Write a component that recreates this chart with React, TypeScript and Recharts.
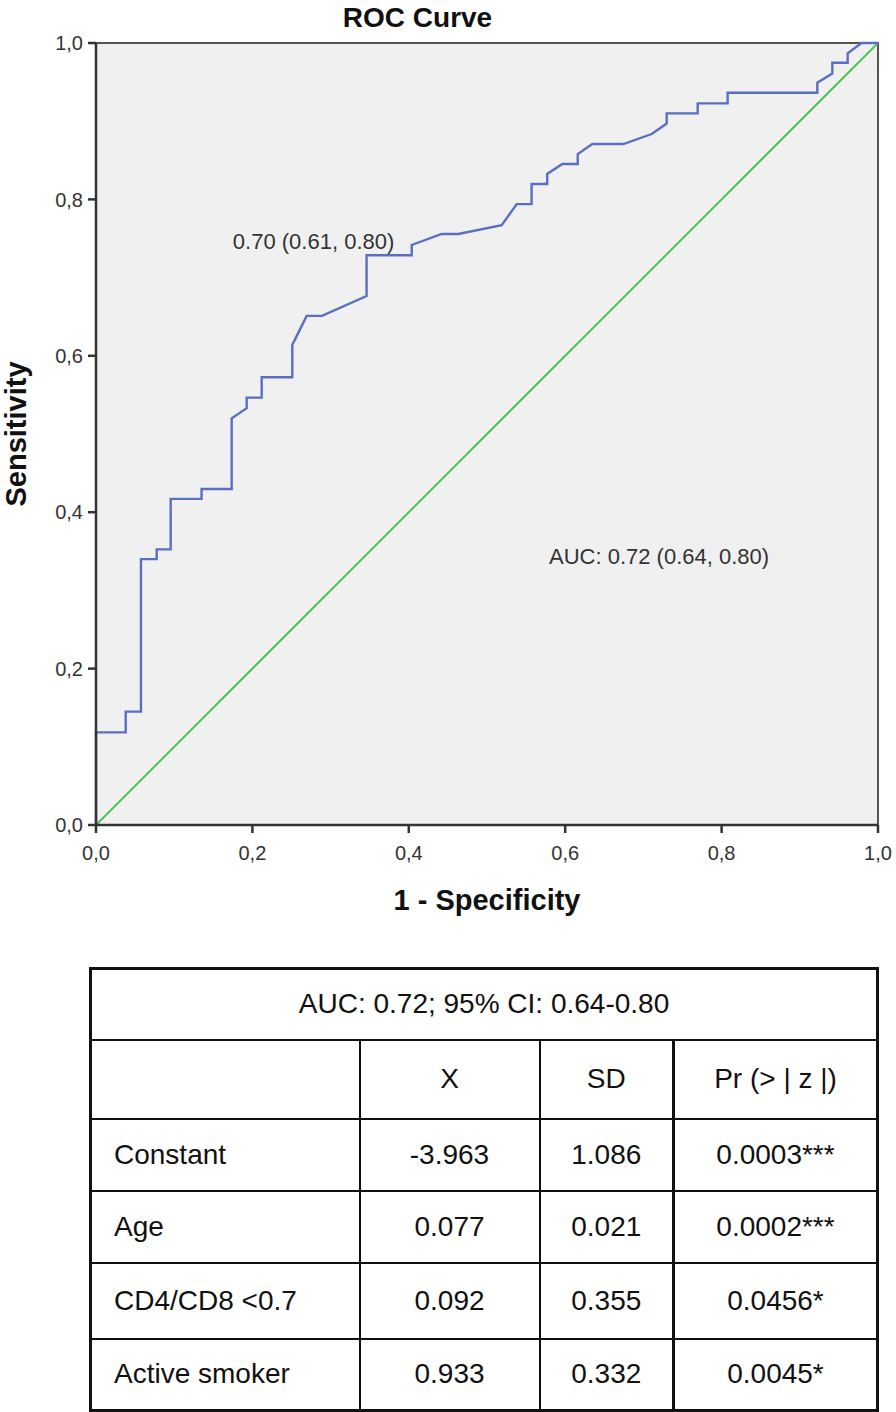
import {
  CartesianGrid,
  Line,
  LineChart,
  ReferenceArea,
  ReferenceDot,
  XAxis,
  YAxis,
} from 'recharts';

// ROC curve (1 - specificity, sensitivity).
const fpr = [
  0, 0, 0.038, 0.038, 0.0575, 0.0575, 0.0776, 0.0776, 0.0955, 0.0955, 0.135, 0.135,
  0.1735, 0.1735, 0.1927, 0.1927, 0.2119, 0.2119, 0.251, 0.251, 0.2694, 0.289, 0.346,
  0.346, 0.4037, 0.4037, 0.442, 0.4633, 0.5188, 0.538, 0.557, 0.557, 0.577, 0.577,
  0.5963, 0.616, 0.616, 0.6347, 0.6743, 0.7106, 0.7298, 0.7298, 0.7694, 0.7694, 0.8077,
  0.8077, 0.9224, 0.9224, 0.9416, 0.9416, 0.9612, 0.9612, 0.979, 1,
];
const tpr = [
  0, 0.1185, 0.1185, 0.145, 0.145, 0.34, 0.34, 0.3525, 0.3525, 0.417, 0.417, 0.4297,
  0.4297, 0.52, 0.533, 0.5465, 0.5465, 0.5725, 0.5725, 0.614, 0.651, 0.651, 0.6765,
  0.7285, 0.7285, 0.7417, 0.7558, 0.7558, 0.767, 0.794, 0.794, 0.8197, 0.8197, 0.8325,
  0.8453, 0.8453, 0.858, 0.8708, 0.8708, 0.8836, 0.897, 0.91, 0.91, 0.9228, 0.9228,
  0.9364, 0.9364, 0.9492, 0.961, 0.9747, 0.9747, 0.9867, 1, 1,
];
const refFpr = [0, 1];
const refTpr = [0, 1];
const axisTicks = [0, 0.2, 0.4, 0.6, 0.8, 1];

const cutoffNote = { x: 0.175, y: 0.7468, text: '0.70 (0.61, 0.80)' };
const aucNote = { x: 0.5793, y: 0.344, text: 'AUC: 0.72 (0.64, 0.80)' };

const tableTitle = 'AUC: 0.72; 95% CI: 0.64-0.80';
const tableHeader = ['', 'X', 'SD', 'Pr (> | z |)'];
const rowNames = ['Constant', 'Age', 'CD4/CD8 <0.7', 'Active smoker'];
const coefX = ['-3.963', '0.077', '0.092', '0.933'];
const coefSD = ['1.086', '0.021', '0.355', '0.332'];
const pValues = ['0.0003***', '0.0002***', '0.0456*', '0.0045*'];

const rocData = fpr.map((x, i) => ({ fpr: x, tpr: tpr[i] }));
const refData = refFpr.map((x, i) => ({ fpr: x, tpr: refTpr[i] }));

const FONT = "'Liberation Sans', Arial, sans-serif";
const fmt = (v: number) => v.toFixed(1).replace('.', ',');

// eslint-disable-next-line @typescript-eslint/no-explicit-any
const noteShape = (text: string) => (props: any) => (
  <text x={props.cx} y={props.cy} dy="0.35em" fontFamily={FONT} fontSize={22} fill="#333">
    {text}
  </text>
);

const cell: React.CSSProperties = {
  border: '2px solid #111',
  textAlign: 'center',
  verticalAlign: 'middle',
  padding: 0,
};

export default function App() {
  return (
    <div style={{ position: 'absolute', left: 0, top: 0, width: 896, height: 1412, background: '#fff' }}>
      <div
        style={{
          position: 'absolute',
          left: 0,
          width: 835,
          top: 2,
          textAlign: 'center',
          fontFamily: FONT,
          fontWeight: 'bold',
          fontSize: 28,
          color: '#111',
        }}
      >
        ROC Curve
      </div>
      <div style={{ position: 'absolute', left: 0, top: 0 }}>
        <LineChart width={896} height={940} margin={{ top: 43, right: 18, bottom: 40, left: 36 }}>
          <CartesianGrid fill="#f0f0f0" horizontal={false} vertical={false} />
          <ReferenceArea x1={0} x2={1} y1={0} y2={1} fill="none" stroke="#555" strokeWidth={2} />
          <XAxis
            type="number"
            dataKey="fpr"
            domain={[0, 1]}
            ticks={axisTicks}
            tickFormatter={fmt}
            height={75}
            tickSize={8}
            tickMargin={13}
            stroke="#333"
            strokeWidth={2.5}
            tick={{ fontFamily: FONT, fontSize: 20, fill: '#333' }}
            label={{
              value: '1 - Specificity',
              position: 'insideBottom',
              offset: -10,
              style: { fontFamily: FONT, fontWeight: 'bold', fontSize: 29, fill: '#111' },
            }}
            allowDuplicatedCategory={false}
          />
          <YAxis
            type="number"
            dataKey="tpr"
            domain={[0, 1]}
            ticks={axisTicks}
            tickFormatter={fmt}
            width={60}
            tickSize={8}
            tickMargin={5}
            stroke="#333"
            strokeWidth={2.5}
            tick={{ fontFamily: FONT, fontSize: 20, fill: '#333' }}
            label={{
              value: 'Sensitivity',
              angle: -90,
              position: 'insideLeft',
              offset: -20,
              style: { fontFamily: FONT, fontWeight: 'bold', fontSize: 29, fill: '#111', textAnchor: 'middle' },
            }}
          />
          <Line
            data={refData}
            dataKey="tpr"
            type="linear"
            stroke="#4fc25a"
            strokeWidth={2}
            dot={false}
            activeDot={false}
            isAnimationActive={false}
          />
          <Line
            data={rocData}
            dataKey="tpr"
            type="linear"
            stroke="#5a6fc2"
            strokeWidth={2.4}
            dot={false}
            activeDot={false}
            isAnimationActive={false}
          />
          <ReferenceDot x={cutoffNote.x} y={cutoffNote.y} r={0} shape={noteShape(cutoffNote.text)} />
          <ReferenceDot x={aucNote.x} y={aucNote.y} r={0} shape={noteShape(aucNote.text)} />
        </LineChart>
      </div>
      <table
        style={{
          position: 'absolute',
          left: 89,
          top: 967,
          width: 787,
          borderCollapse: 'collapse',
          tableLayout: 'fixed',
          fontFamily: FONT,
          fontSize: 28,
          color: '#111',
          border: '3px solid #111',
        }}
      >
        <colgroup>
          <col style={{ width: 269 }} />
          <col style={{ width: 180 }} />
          <col style={{ width: 134 }} />
          <col style={{ width: 204 }} />
        </colgroup>
        <tbody>
          <tr style={{ height: 71 }}>
            <td colSpan={4} style={cell}>
              {tableTitle}
            </td>
          </tr>
          <tr style={{ height: 79 }}>
            {tableHeader.map((h, i) => (
              <td key={i} style={{ ...cell, borderRight: i === 2 ? '3px solid #111' : cell.border }}>
                {h}
              </td>
            ))}
          </tr>
          {rowNames.map((name, r) => (
            <tr key={name} style={{ height: r === 2 ? 76 : 72 }}>
              <td style={{ ...cell, textAlign: 'left', paddingLeft: 22 }}>{name}</td>
              <td style={cell}>{coefX[r]}</td>
              <td style={{ ...cell, borderRight: '3px solid #111' }}>{coefSD[r]}</td>
              <td style={cell}>{pValues[r]}</td>
            </tr>
          ))}
        </tbody>
      </table>
    </div>
  );
}
